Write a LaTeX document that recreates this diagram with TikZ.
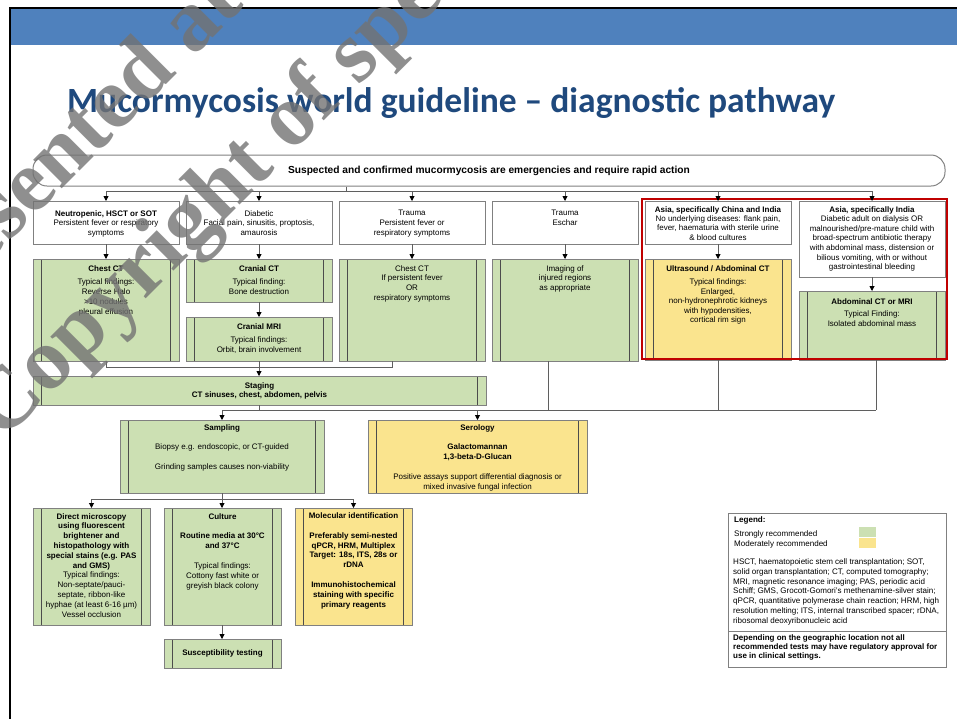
\documentclass[tikz,border=0pt]{standalone}
\usepackage{fontspec}
\setmainfont{Liberation Sans}
\newfontfamily\titlefont{Carlito}
\newfontfamily\wmfont{Liberation Serif}
\usetikzlibrary{arrows.meta,positioning}

\definecolor{gfill}{RGB}{204,224,179}
\definecolor{yfill}{RGB}{250,228,142}
\definecolor{bline}{RGB}{128,128,128}
\definecolor{cline}{RGB}{95,95,95}
\definecolor{band}{RGB}{79,129,189}
\definecolor{tblue}{RGB}{31,73,125}
\definecolor{redb}{RGB}{192,0,0}

\tikzset{
  boxbase/.style={draw=bline, line width=1pt, inner sep=0pt, outer sep=0pt},
  wbox/.style={boxbase, fill=white},
  procbox/.style={boxbase, path picture={
    \draw[line width=0.8pt, black!70] ([xshift=8.5pt]path picture bounding box.north west) -- ([xshift=8.5pt]path picture bounding box.south west);
    \draw[line width=0.8pt, black!70] ([xshift=-8.5pt]path picture bounding box.north east) -- ([xshift=-8.5pt]path picture bounding box.south east);}},
  gbox/.style={procbox, fill=gfill},
  ybox/.style={procbox, fill=yfill},
  txt/.style={inner sep=0pt, align=center, font=\fontsize{8}{9.8}\selectfont},
  ltxt/.style={inner sep=0pt, align=left, anchor=north west, font=\fontsize{8.05}{9.8}\selectfont},
  conn/.style={draw=cline, line width=0.9pt},
  arr/.style={conn, -{Triangle[length=5pt,width=5pt,color=black]}},
  wmark/.style={rotate=45, anchor=base west, inner sep=0pt, font=\wmfont\bfseries\fontsize{88}{90}\selectfont, text=black!55, opacity=0.8}
}

% style, name, x1, y1, x2, y2
\newcommand\mkbox[6]{\node[#1, minimum width={#5-#3}, minimum height={#6-#4}] (#2) at ({(#3+#5)/2},{(#4+#6)/2}) {};}

\begin{document}
\begin{tikzpicture}[x=1pt,y=-1pt]
\useasboundingbox (0,0) rectangle (957,718);
\clip (0,0) rectangle (957,718);
\fill[white] (0,0) rectangle (957,718);

% slide frame and band
\fill[band] (11,9) rectangle (957,45);
\draw[line width=2.5pt, black] (10,725) -- (10,8) -- (965,8);

\node[anchor=base west, inner sep=0pt, font=\titlefont\bfseries\fontsize{35.5}{40}\selectfont, text=tblue] (title) at (67,112) {Mucormycosis world guideline – diagnostic pathway};

% banner
\node[draw=bline, line width=1pt, rounded corners=14pt, fill=white, minimum width=912, minimum height=31, inner sep=0pt] (banner) at (489,170.5) {\fontsize{10.2}{12}\selectfont\bfseries Suspected and confirmed mucormycosis are emergencies and require rapid action};

% row 1
\mkbox{wbox}{w1}{33}{201}{179}{244}
\mkbox{wbox}{w2}{186}{201}{332}{244}
\mkbox{wbox}{w3}{339}{201}{485}{244}
\mkbox{wbox}{w4}{492}{201}{638}{244}
\mkbox{wbox}{w5}{645}{201}{791}{244}
\mkbox{wbox}{w6}{799}{201}{945}{277}

\node[txt, below=9pt of w1.north] (t1) {\textbf{Neutropenic, HSCT or SOT}\\Persistent fever or respiratory\\symptoms};
\node[txt, below=9pt of w2.north] (t2) {Diabetic\\Facial pain, sinusitis, proptosis,\\amaurosis};
\node[txt, below=9pt of w3.north] (t3) {Trauma\\Persistent fever or\\respiratory symptoms};
\node[txt, below=9pt of w4.north] (t4) {Trauma\\Eschar};
\node[txt, below=5pt of w5.north, font=\fontsize{8}{9.4}\selectfont] (t5) {\textbf{Asia, specifically China and India}\\No underlying diseases: flank pain,\\fever, haematuria with sterile urine\\\& blood cultures};
\node[txt, below=5pt of w6.north, font=\fontsize{8}{9.6}\selectfont] (t6) {\textbf{Asia, specifically India}\\Diabetic adult on dialysis OR\\malnourished/pre-mature child with\\broad-spectrum antibiotic therapy\\with abdominal mass, distension or\\bilious vomiting, with or without\\gastrointestinal bleeding};

% row 2
\mkbox{gbox}{g1}{33}{259}{179}{361}
\mkbox{gbox}{g2}{186}{259}{332}{302}
\mkbox{gbox}{g3}{186}{317}{332}{361}
\mkbox{gbox}{g4}{339}{259}{485}{361}
\mkbox{gbox}{g5}{492}{259}{638}{361}
\mkbox{ybox}{y6}{645}{259}{791}{360}
\mkbox{gbox}{g6}{799}{291}{945}{360}

\node[txt, below=6pt of g1.north] (u1) {\textbf{Chest CT}\\[4pt]Typical findings:\\Reverse Halo\\>10 nodules\\pleural effusion};
\node[txt, below=6pt of g2.north] (u2) {\textbf{Cranial CT}\\[4pt]Typical finding:\\Bone destruction};
\node[txt, below=6pt of g3.north] (u3) {\textbf{Cranial MRI}\\[4pt]Typical findings:\\Orbit, brain involvement};
\node[txt, below=6pt of g4.north] (u4) {Chest CT\\If persistent fever\\OR\\respiratory symptoms};
\node[txt, below=6pt of g5.north] (u5) {Imaging of\\injured regions\\as appropriate};
\node[txt, below=6pt of y6.north, font=\fontsize{8}{9.4}\selectfont] (u6) {\textbf{Ultrasound / Abdominal CT}\\[4.5pt]Typical findings:\\Enlarged,\\non-hydronephrotic kidneys\\with hypodensities,\\cortical rim sign};
\node[txt, below=7pt of g6.north] (u7) {\textbf{Abdominal CT or MRI}\\[3pt]Typical Finding:\\Isolated abdominal mass};

% staging, sampling, serology
\mkbox{gbox}{staging}{33}{376}{486}{405}
\node[txt, below=6pt of staging.north] (s1) {\textbf{Staging}\\\textbf{CT sinuses, chest, abdomen, pelvis}};
\mkbox{gbox}{sampling}{120}{420}{324}{493}
\node[txt, below=4pt of sampling.north] (s2) {\textbf{Sampling}\\[10pt]Biopsy e.g. endoscopic, or CT-guided\\[10pt]Grinding samples causes non-viability};
\mkbox{ybox}{serology}{368}{420}{587}{493}
\node[txt, below=4pt of serology.north] (s3) {\textbf{Serology}\\[10pt]\textbf{Galactomannan}\\\textbf{1,3-beta-D-Glucan}\\[10pt]Positive assays support differential diagnosis or\\mixed invasive fungal infection};

% bottom row
\mkbox{gbox}{direct}{33}{508}{150}{625}
\mkbox{gbox}{culture}{164}{508}{281}{625}
\mkbox{ybox}{molec}{295}{508}{412}{625}
\mkbox{gbox}{suscept}{164}{639}{281}{668}
\node[txt, below=5pt of direct.north] (d1) {\textbf{Direct microscopy}\\\textbf{using fluorescent}\\\textbf{brightener and}\\\textbf{histopathology with}\\\textbf{special stains (e.g. PAS}\\\textbf{and GMS)}\\Typical findings:\\Non-septate/pauci-\\septate, ribbon-like\\hyphae (at least 6-16 µm)\\Vessel occlusion};
\node[txt, below=5pt of culture.north] (d2) {\textbf{Culture}\\[10pt]\textbf{Routine media at 30°C}\\\textbf{and 37°C}\\[10pt]Typical findings:\\Cottony fast white or\\greyish black colony};
\node[txt, below=4.5pt of molec.north, font=\fontsize{8}{9.8}\selectfont\bfseries] (d3) {Molecular identification\\[10pt]Preferably semi-nested\\qPCR, HRM, Multiplex\\Target: 18s, ITS, 28s or\\rDNA\\[10pt]Immunohistochemical\\staining with specific\\primary reagents};
\node[txt, font=\fontsize{8}{9.8}\selectfont\bfseries] (d4) at (suscept.center) {Susceptibility testing};

% legend
\mkbox{boxbase}{legend}{728}{513}{946}{667}
\coordinate (ldiv) at (0,631);
\draw[draw=bline, line width=1pt] (legend.west |- ldiv) -- (legend.east |- ldiv);
\node[ltxt] (l1) at (734,516) {\textbf{Legend:}\\[4.5pt]Strongly recommended\\Moderately recommended};
\node[fill=gfill, minimum width=17, minimum height=10.5, inner sep=0pt] (sw1) at (867.5,532) {};
\node[fill=yfill, minimum width=17, minimum height=10.5, inner sep=0pt] (sw2) at (867.5,543) {};
\node[ltxt] (l2) at (733,558.5) {HSCT, haematopoietic stem cell transplantation; SOT,\\solid organ transplantation; CT, computed tomography;\\MRI, magnetic resonance imaging; PAS, periodic acid\\Schiff; GMS, Grocott-Gomori's methenamine-silver stain;\\qPCR, quantitative polymerase chain reaction; HRM, high\\resolution melting; ITS, internal transcribed spacer; rDNA,\\ribosomal deoxyribonucleic acid};
\node[ltxt, font=\fontsize{8}{9.4}\selectfont\bfseries] (l3) at (733,634) {Depending on the geographic location not all\\recommended tests may have regulatory approval for\\use in clinical settings.};

% red highlight
\node[draw=redb, line width=2.5pt, minimum width=305, minimum height=160, inner sep=0pt] (asia) at (794.5,279) {};

% connectors
\coordinate (bus1) at (346,191);
\draw[conn] (banner.south -| bus1) -- (bus1);
\draw[conn] (w1.north |- bus1) -- (w6.north |- bus1);
\foreach \n in {w1,w2,w3,w4,w5,w6} \draw[arr] (\n.north |- bus1) -- (\n.north);
\draw[arr] (w1) -- (g1);
\draw[arr] (w2) -- (g2);
\draw[arr] (w3) -- (g4);
\draw[arr] (w4) -- (g5);
\draw[arr] (w5) -- (y6);
\draw[arr] (w6) -- (g6);
\draw[arr] (g2) -- (g3);
\coordinate (m1) at (392,367);
\draw[conn] (g1.south) |- (m1) -- (m1 |- g4.south);
\draw[arr] (g3.south) -- (g3.south |- staging.north);
\coordinate (b2L) at (222,410);
\coordinate (b2R) at (876,410);
\draw[conn] (g3.south |- staging.south) -- (g3.south |- b2L);
\draw[conn] (b2L) -- (b2R);
\draw[conn] ([xshift=-17pt]g5.south) -- ([xshift=-17pt]g5.south |- b2L);
\draw[conn] (y6.south) -- (y6.south |- b2L);
\draw[conn] (b2R |- g6.south) -- (b2R);
\draw[arr] (b2L) -- (sampling.north);
\draw[arr] (serology.north |- b2L) -- (serology.north);
\coordinate (b3) at (222,499);
\draw[conn] (sampling.south) -- (b3);
\draw[conn] (direct.north |- b3) -- (molec.north |- b3);
\draw[arr] (direct.north |- b3) -- (direct.north);
\draw[arr] (b3) -- (b3 |- culture.north);
\draw[arr] (molec.north |- b3) -- (molec.north);
\draw[arr] (culture.south -| b3) -- (suscept.north -| b3);

% watermark
\node[wmark] (wm1) at (-84,335) {Presented at};
\node[wmark] (wm2) at (2.5,442.5) {Copyright of speaker};
\end{tikzpicture}
\end{document}
